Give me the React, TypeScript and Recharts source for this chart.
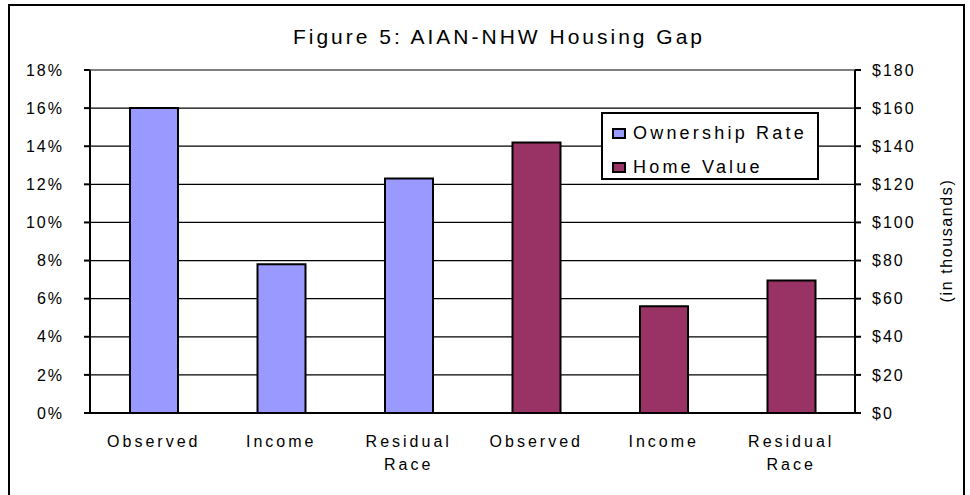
import React from 'react';
import { BarChart, Bar, XAxis, YAxis, CartesianGrid, ReferenceLine, Legend, Label } from 'recharts';

const categories = ['Observed', 'Income', 'Residual Race', 'Observed', 'Income', 'Residual Race'];
const seriesNames = ['Ownership Rate', 'Home Value'];
const ownershipRate = [16, 7.8, 12.3, null, null, null];
const homeValue = [null, null, null, 142, 56, 69.5];
const leftTicks = [0, 2, 4, 6, 8, 10, 12, 14, 16, 18];
const rightTicks = [0, 20, 40, 60, 80, 100, 120, 140, 160, 180];
const boundaryTicks = [0, 1, 2, 3, 4, 5, 6];

const data = categories.map((c, i) => ({ idx: i, cat: i, label: c, own: ownershipRate[i], home: homeValue[i] }));

const FONT = '"Liberation Sans", Arial, sans-serif';

const CatTick = (props: any) => {
  const { x, y, payload } = props;
  const words = String(categories[payload.value] ?? '').split(' ');
  return (
    <text x={x} y={y} textAnchor="middle" fill="#000" fontFamily={FONT} fontSize={16} letterSpacing={3}>
      {words.map((w: string, i: number) => (
        <tspan key={i} x={x} dy={i === 0 ? 26 : 23}>{w}</tspan>
      ))}
    </text>
  );
};

const LegendBox = (props: any) => {
  const items = [...(props.payload || [])].sort(
    (a: any, b: any) => seriesNames.indexOf(a.value) - seriesNames.indexOf(b.value)
  );
  return (
    <div style={{ width: 218, height: 68, boxSizing: 'border-box', border: '2px solid #000', background: '#fff', paddingTop: 4 }}>
      {items.map((e: any, i: number) => (
        <div key={i} style={{ display: 'flex', alignItems: 'center', height: 30, marginTop: i === 0 ? 0 : 4, paddingLeft: 9 }}>
          <span style={{ display: 'inline-block', width: 10, height: 7, border: '2px solid #000', background: e.color || (e.payload && e.payload.fill) }} />
          <span style={{ marginLeft: 7, fontFamily: FONT, fontSize: 18, letterSpacing: 3.2, color: '#000', whiteSpace: 'nowrap' }}>{e.value}</span>
        </div>
      ))}
    </div>
  );
};

const RightLabel = (props: any) => {
  const vb = props.viewBox || {};
  const cx = vb.x + vb.width - 9;
  const cy = vb.y + vb.height / 2 - 1;
  return (
    <text x={cx} y={cy} transform={`rotate(-90 ${cx} ${cy})`} textAnchor="middle" dominantBaseline="central" fill="#000" fontFamily={FONT} fontSize={16} letterSpacing={1.6}>
      (in thousands)
    </text>
  );
};

export default function App() {
  return (
    <div style={{ position: 'absolute', left: 0, top: 0, width: 970, height: 495, background: '#fff', overflow: 'hidden' }}>
      <div style={{ position: 'absolute', left: 8, top: 4, width: 957, height: 520, boxSizing: 'border-box', border: '2px solid #000' }} />
      <div style={{ position: 'absolute', left: 30, width: 938, top: 25, lineHeight: '24px', textAlign: 'center', fontFamily: FONT, fontSize: 21, letterSpacing: 3, color: '#000' }}>
        Figure 5: AIAN-NHW Housing Gap
      </div>
      <div style={{ position: 'absolute', left: 0, top: 0 }}>
        <BarChart width={970} height={495} data={data} margin={{ top: 70, right: 15, bottom: 32, left: 10 }} barGap={-48}>
          <CartesianGrid vertical={false} stroke="#000" strokeWidth={1.3} yAxisId="left" xAxisId="cat" />
          <XAxis xAxisId="b" dataKey="idx" type="number" domain={[0, 6]} ticks={boundaryTicks} allowDataOverflow height={8} tick={false} tickSize={6} axisLine={{ stroke: '#000', strokeWidth: 2 }} tickLine={{ stroke: '#000', strokeWidth: 2 }} />
          <XAxis xAxisId="cat" dataKey="cat" type="category" height={42} axisLine={false} tickLine={false} tickSize={0} tickMargin={0} interval={0} tick={<CatTick />} />
          <YAxis yAxisId="left" orientation="left" width={80} domain={[0, 18]} ticks={leftTicks} tickFormatter={(v: number) => `${v}%`} axisLine={{ stroke: '#000', strokeWidth: 2 }} tickLine={{ stroke: '#000', strokeWidth: 2 }} tickSize={6} tickMargin={20} tick={{ fill: '#000', fontSize: 16, fontFamily: FONT, letterSpacing: 2 }} />
          <YAxis yAxisId="right" orientation="right" width={100} domain={[0, 180]} ticks={rightTicks} tickFormatter={(v: number) => `$${v}`} axisLine={{ stroke: '#000', strokeWidth: 2 }} tickLine={{ stroke: '#000', strokeWidth: 2 }} tickSize={6} tickMargin={11} tick={{ fill: '#000', fontSize: 16, fontFamily: FONT, letterSpacing: 2 }}>
            <Label content={<RightLabel />} />
          </YAxis>
          <ReferenceLine y={18} yAxisId="left" xAxisId="cat" stroke="#808080" strokeWidth={2} />
          <Legend layout="horizontal" verticalAlign="middle" align="center" content={<LegendBox />} wrapperStyle={{ position: 'absolute', left: 601, top: 112, width: 218, height: 68 }} />
          <Bar xAxisId="cat" yAxisId="left" dataKey="own" name="Ownership Rate" fill="#9999FF" stroke="#000" strokeWidth={2} barSize={48} isAnimationActive={false} />
          <Bar xAxisId="cat" yAxisId="right" dataKey="home" name="Home Value" fill="#993366" stroke="#000" strokeWidth={2} barSize={48} isAnimationActive={false} />
        </BarChart>
      </div>
    </div>
  );
}
